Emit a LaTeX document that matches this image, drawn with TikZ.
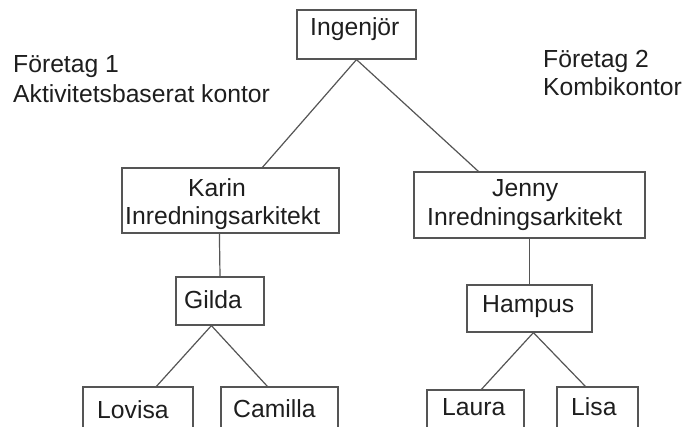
\documentclass[tikz,border=0pt]{standalone}
\usepackage{fontspec}
\setmainfont{Liberation Sans}
\usetikzlibrary{calc}
\definecolor{linegray}{RGB}{85,85,85}
\definecolor{txt}{RGB}{30,30,30}
\begin{document}
\begin{tikzpicture}[x=1pt,y=-1pt,
  box/.style={draw=linegray, line width=1.2pt, inner sep=0pt, fill=none},
  conn/.style={draw=linegray, line width=1.2pt},
  lbl/.style={anchor=base west, inner sep=0pt, text=txt, font=\fontsize{24.7}{29}\selectfont}]
\useasboundingbox (0,0) rectangle (687,427);
\clip (0,0) rectangle (687,427);
\fill[white] (0,0) rectangle (687,427);
% boxes
\node[box, minimum width=119pt, minimum height=49pt] (ing) at (356.5,34.5) {};
\node[box, minimum width=217pt, minimum height=65pt] (karin) at (230.5,200.5) {};
\node[box, minimum width=231pt, minimum height=66pt] (jenny) at (529.5,205) {};
\node[box, minimum width=88pt, minimum height=48pt] (gilda) at (220,301) {};
\node[box, minimum width=125pt, minimum height=47pt] (hampus) at (529.5,308.5) {};
\node[box, minimum width=110pt, minimum height=80pt] (lovisa) at (138,427) {};
\node[box, minimum width=117pt, minimum height=80pt] (camilla) at (279.5,427) {};
\node[box, minimum width=97pt, minimum height=80pt] (laura) at (475.5,430) {};
\node[box, minimum width=81pt, minimum height=80pt] (lisa) at (597.5,427) {};
% texts
\node[lbl] (t-ing) at (310,36) {Ingenjör};
\node[lbl] (t-karin) at (188,197) {Karin};
\node[lbl] (t-karin2) at (125,225) {Inredningsarkitekt};
\node[lbl] (t-jenny) at (492,197) {Jenny};
\node[lbl] (t-jenny2) at (427,226) {Inredningsarkitekt};
\node[lbl] (t-gilda) at (184,308) {Gilda};
\node[lbl] (t-hampus) at (482,312) {Hampus};
\node[lbl] (t-lovisa) at (97,418) {Lovisa};
\node[lbl] (t-camilla) at (233,417) {Camilla};
\node[lbl] (t-laura) at (442,415) {Laura};
\node[lbl] (t-lisa) at (571,415) {Lisa};
\node[lbl] (f1) at (13,73) {Företag 1};
\node[lbl] (f1b) at (13,103) {Aktivitetsbaserat kontor};
\node[lbl] (f2) at (543,68) {Företag 2};
\node[lbl] (f2b) at (543,96) {Kombikontor};
% connectors
\draw[conn] (ing.south) -- ($(karin.north west)+(141,0)$);
\draw[conn] (ing.south) -- ($(jenny.north west)+(65,0)$);
\draw[conn] ($(karin.south west)+(98,0)$) -- (gilda.north);
\draw[conn] (jenny.south) -- (hampus.north);
\draw[conn] ($(gilda.south west)+(36,0)$) -- ($(lovisa.north west)+(74,0)$);
\draw[conn] ($(gilda.south west)+(36,0)$) -- ($(camilla.north west)+(47,0)$);
\draw[conn] ($(hampus.south west)+(67,0)$) -- ($(laura.north west)+(55,0)$);
\draw[conn] ($(hampus.south west)+(67,0)$) -- ($(lisa.north west)+(29,0)$);
\end{tikzpicture}
\end{document}
